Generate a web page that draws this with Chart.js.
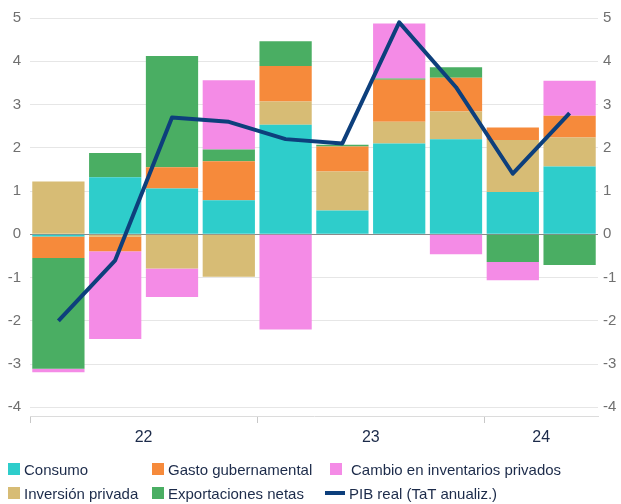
<!DOCTYPE html>
<html>
<head>
<meta charset="utf-8">
<script src="https://cdn.jsdelivr.net/npm/chart.js@4"></script>
<style>
  body { margin: 0; background: #fff; font-family: Arial, "Liberation Sans", sans-serif; }
  #wrap { position: relative; width: 621px; height: 450px; }
  #legend { position: absolute; left: 0; top: 0; width: 621px; height: 504px; pointer-events: none; }
  .item {
    position: absolute; display: flex; align-items: center; white-space: nowrap;
    font-size: 15px; color: #1c2b4a; height: 18px;
  }
  .box { width: 12px; height: 12px; margin-right: 4px; }
  .ln { width: 20px; height: 4px; margin-right: 4px; }
</style>
</head>
<body>
<div id="wrap"><canvas id="c"></canvas></div>
<div id="legend"></div>
<script>
// ----- data -----
const quarters = ['1T22', '2T22', '3T22', '4T22', '1T23', '2T23', '3T23', '4T23', '1T24', '2T24']
const consumo = [-0.05, 1.32, 1.06, 0.79, 2.53, 0.55, 2.1, 2.2, 0.98, 1.57]
const inversion = [1.22, -0.05, -0.79, -0.98, 0.54, 0.9, 0.5, 0.64, 1.2, 0.67]
const gasto = [-0.5, -0.34, 0.49, 0.9, 0.82, 0.58, 0.97, 0.78, 0.29, 0.5]
const exportaciones = [-2.56, 0.56, 2.57, 0.27, 0.57, 0.04, 0.03, 0.24, -0.64, -0.71]
const inventarios = [-0.08, -2.03, -0.66, 1.6, -2.2, 0, 1.27, -0.46, -0.42, 0.81]
const pib = [-2.0, -0.6, 2.7, 2.6, 2.2, 2.1, 4.9, 3.4, 1.4, 2.8]
const yTicks = [-4, -3, -2, -1, 0, 1, 2, 3, 4, 5]

// year groups built from the quarter labels
const years = []
quarters.forEach((q, i) => {
  const y = q.slice(-2)
  const last = years[years.length - 1]
  if (last && last.label === y) last.end = i + 1
  else years.push({ label: y, start: i, end: i + 1 })
})
const groupTicks = []
years.forEach(g => {
  groupTicks.push({ value: g.start, mark: true, label: '' })
  groupTicks.push({ value: (g.start + g.end) / 2, mark: false, label: g.label })
})

const colors = {
  consumo: '#2ecdcb',
  gasto: '#f68a3b',
  inventarios: '#f48be6',
  inversion: '#d7bc75',
  exportaciones: '#4aae63',
  pib: '#0d3f7c',
}

const bar = (label, data, color) => ({
  type: 'bar', label, data, backgroundColor: color, stack: 'comp',
  barPercentage: 0.92, categoryPercentage: 1, order: 1, borderWidth: 0,
})

const tickFont = { family: 'Arial, "Liberation Sans", sans-serif', size: 15 }

new Chart(document.getElementById('c'), {
  data: {
    labels: quarters,
    datasets: [
      bar('Consumo', consumo, colors.consumo),
      bar('Inversión privada', inversion, colors.inversion),
      bar('Gasto gubernamental', gasto, colors.gasto),
      bar('Exportaciones netas', exportaciones, colors.exportaciones),
      bar('Cambio en inventarios privados', inventarios, colors.inventarios),
      {
        type: 'line', label: 'PIB real (TaT anualiz.)', data: pib, stack: 'pib',
        borderColor: colors.pib, borderWidth: 4, pointRadius: 0, tension: 0,
        order: 0, borderJoinStyle: 'round',
      },
    ],
  },
  options: {
    responsive: true,
    maintainAspectRatio: false,
    animation: false,
    layout: { padding: { top: 14, bottom: 0, left: 0, right: 0 } },
    plugins: { legend: { display: false }, tooltip: { enabled: false } },
    scales: {
      x: { display: false, stacked: true, offset: true },
      x2: {
        type: 'linear', position: 'bottom', min: 0, max: quarters.length,
        afterBuildTicks: s => { s.ticks = groupTicks.map(t => ({ value: t.value })) },
        afterFit: s => { s.height = 34 },
        border: { display: true, color: '#dcdcdc' },
        grid: {
          drawOnChartArea: false, tickLength: 7,
          color: c => (groupTicks[c.index] && groupTicks[c.index].mark ? '#c8c8c8' : 'transparent'),
        },
        ticks: {
          autoSkip: false, maxRotation: 0, padding: 5,
          color: '#1c2b4a', font: { family: tickFont.family, size: 16 },
          callback: (v, i) => groupTicks[i].label,
        },
      },
      y: {
        stacked: true, position: 'left', min: -4.2, max: 5,
        afterBuildTicks: s => { s.ticks = yTicks.map(v => ({ value: v })) },
        afterFit: s => { s.width = 30 },
        border: { display: false },
        grid: {
          color: c => (c.tick && c.tick.value === 0 ? '#8a8a8a' : '#e6e6e6'),
          drawTicks: false,
        },
        ticks: { color: '#707070', font: tickFont, padding: 9 },
      },
      y2: {
        position: 'right', min: -4.2, max: 5,
        afterBuildTicks: s => { s.ticks = yTicks.map(v => ({ value: v })) },
        afterFit: s => { s.width = 23 },
        border: { display: false },
        grid: { drawOnChartArea: false, drawTicks: false },
        ticks: { color: '#707070', font: tickFont, padding: 5 },
      },
    },
  },
})

// ----- legend (column-major, like the original) -----
const legendItems = [
  ['Consumo', colors.consumo, 'box', 8, 460],
  ['Gasto gubernamental', colors.gasto, 'box', 152, 460],
  ['Cambio en inventarios privados', colors.inventarios, 'box', 330, 460],
  ['Inversión privada', colors.inversion, 'box', 8, 484],
  ['Exportaciones netas', colors.exportaciones, 'box', 152, 484],
  ['PIB real (TaT anualiz.)', colors.pib, 'ln', 325, 484],
]
const lg = document.getElementById('legend')
legendItems.forEach(([text, color, kind, left, top]) => {
  const d = document.createElement('div')
  d.className = 'item'
  d.style.left = left + 'px'
  d.style.top = top + 'px'
  const gap = text.startsWith('Cambio') ? 'margin-right:9px;' : ''
  d.innerHTML = `<span class="${kind}" style="background:${color};${gap}"></span><span>${text}</span>`
  lg.appendChild(d)
})
</script>
</body>
</html>
